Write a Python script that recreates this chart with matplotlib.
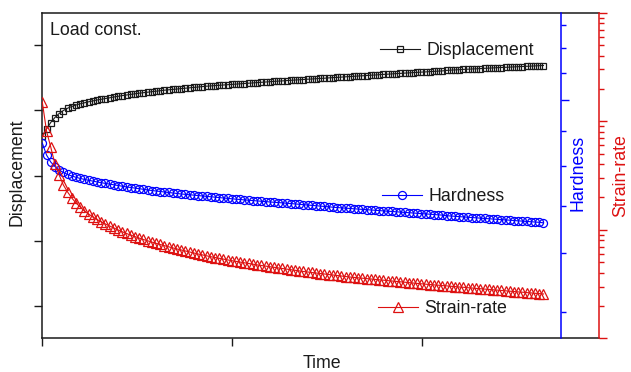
import numpy as np
import matplotlib
matplotlib.use("Agg")
import matplotlib.pyplot as plt
from matplotlib.ticker import FixedLocator, NullFormatter, LogLocator

plt.rcParams['font.family'] = ['Liberation Sans', 'DejaVu Sans']

# ---------------- data ----------------
time = np.arange(120) * 0.0222   # uniform sampling of the time axis (arb. units)

displacement = [
    202.3, 209.3, 215.8, 220.8, 224.8, 227.8, 230.1, 231.8, 233.3, 234.5,
    235.5, 236.5, 237.4, 238.3, 239.0, 239.8, 240.5, 241.3, 242.0, 242.7,
    243.3, 243.9, 244.5, 245.1, 245.6, 246.1, 246.6, 247.1, 247.6, 248.1,
    248.5, 248.9, 249.3, 249.7, 250.1, 250.5, 250.9, 251.3, 251.7, 252.1,
    252.4, 252.7, 253.0, 253.3, 253.6, 253.9, 254.2, 254.5, 254.8, 255.1,
    255.4, 255.7, 256.0, 256.3, 256.6, 256.9, 257.2, 257.4, 257.7, 258.0,
    258.3, 258.5, 258.8, 259.1, 259.3, 259.6, 259.9, 260.1, 260.4, 260.7,
    260.9, 261.2, 261.5, 261.7, 262.0, 262.3, 262.5, 262.8, 263.1, 263.3,
    263.6, 263.9, 264.1, 264.4, 264.7, 264.9, 265.2, 265.4, 265.7, 265.9,
    266.2, 266.4, 266.7, 266.9, 267.2, 267.4, 267.9, 268.2, 268.4, 268.6,
    268.9, 269.1, 269.3, 269.5, 269.7, 270.0, 270.2, 270.4, 270.6, 270.8,
    271.0, 271.2, 271.4, 271.6, 271.8, 272.0, 272.2, 272.4, 272.6, 272.8,
]

hardness = [
    7.634, 7.292, 7.099, 6.977, 6.884, 6.819, 6.767, 6.728, 6.695, 6.666,
    6.641, 6.618, 6.598, 6.577, 6.557, 6.540, 6.522, 6.505, 6.487, 6.470,
    6.453, 6.438, 6.423, 6.408, 6.394, 6.379, 6.364, 6.352, 6.340, 6.328,
    6.316, 6.304, 6.292, 6.280, 6.271, 6.261, 6.252, 6.242, 6.233, 6.223,
    6.214, 6.204, 6.194, 6.185, 6.175, 6.166, 6.156, 6.149, 6.139, 6.132,
    6.123, 6.116, 6.107, 6.100, 6.091, 6.084, 6.077, 6.070, 6.061, 6.054,
    6.045, 6.037, 6.028, 6.020, 6.012, 6.004, 5.995, 5.987, 5.979, 5.970,
    5.962, 5.955, 5.948, 5.941, 5.934, 5.927, 5.920, 5.914, 5.907, 5.900,
    5.893, 5.886, 5.879, 5.873, 5.866, 5.859, 5.852, 5.846, 5.839, 5.832,
    5.825, 5.818, 5.812, 5.805, 5.798, 5.792, 5.778, 5.772, 5.765, 5.758,
    5.752, 5.745, 5.738, 5.732, 5.725, 5.718, 5.712, 5.705, 5.699, 5.692,
    5.686, 5.680, 5.673, 5.666, 5.660, 5.653, 5.647, 5.640, 5.634, 5.623,
]

strain_rate = [
    0.1504, 0.08130, 0.05789, 0.04036, 0.03196, 0.02586, 0.02229, 0.01962, 0.01765, 0.01621,
    0.01489, 0.01398, 0.01311, 0.01244, 0.01184, 0.01130, 0.01083, 0.01038, 0.009951, 0.009579,
    0.009239, 0.008931, 0.008651, 0.008381, 0.008136, 0.007914, 0.007699, 0.007505, 0.007316, 0.007132,
    0.006968, 0.006807, 0.006650, 0.006510, 0.006373, 0.006240, 0.006109, 0.005981, 0.005867, 0.005756,
    0.005647, 0.005552, 0.005459, 0.005367, 0.005277, 0.005188, 0.005112, 0.005036, 0.004962, 0.004889,
    0.004817, 0.004746, 0.004686, 0.004627, 0.004568, 0.004510, 0.004453, 0.004397, 0.004341, 0.004286,
    0.004232, 0.004178, 0.004126, 0.004082, 0.004039, 0.003996, 0.003954, 0.003912, 0.003871, 0.003830,
    0.003790, 0.003750, 0.003710, 0.003671, 0.003640, 0.003609, 0.003579, 0.003549, 0.003519, 0.003489,
    0.003459, 0.003430, 0.003401, 0.003372, 0.003344, 0.003316, 0.003288, 0.003260, 0.003232, 0.003205,
    0.003178, 0.003151, 0.003131, 0.003105, 0.003085, 0.003059, 0.003040, 0.003014, 0.002995, 0.002969,
    0.002951, 0.002926, 0.002907, 0.002883, 0.002864, 0.002840, 0.002822, 0.002798, 0.002780, 0.002757,
    0.002739, 0.002716, 0.002699, 0.002676, 0.002659, 0.002637, 0.002620, 0.002598, 0.002582, 0.002560,
]

series_labels = ["Displacement", "Hardness", "Strain-rate"]
axis_labels = {"x": "Time", "y": "Displacement", "y2": "Hardness", "y3": "Strain-rate"}
note = "Load const."

# ---------------- styling ----------------
FS = 12.8
BLACK = "#1a1a1a"
BLUE = "#0000FF"
RED = "#DD1111"
W, H = 631, 372

fig = plt.figure(figsize=(W / 100, H / 100), dpi=100)
ax = fig.add_axes([42.3 / W, 1 - 338.3 / H, 557 / W, 325.6 / H])

# main axis : displacement
l_d, = ax.plot(time, displacement, color=BLACK, lw=0.8, marker='s', ms=5.0,
               mfc='none', mec=BLACK, mew=0.9)
ax.set_xlim(0, 2.936)
ax.set_ylim(0, 325.6)
ax.set_xticks([0, 1, 2])
ax.set_yticks([32.3, 97.55, 162.8, 228.05, 293.3])
ax.xaxis.set_major_formatter(NullFormatter())
ax.yaxis.set_major_formatter(NullFormatter())
ax.tick_params(axis='both', direction='out', length=6, width=1.0, color=BLACK)
for s in ['left', 'bottom', 'top']:
    ax.spines[s].set_color(BLACK)
    ax.spines[s].set_linewidth(1.1)
ax.spines['right'].set_visible(False)

# hardness axis (log, offset spine)
axh = ax.twinx()
l_h, = axh.plot(time, hardness, color=BLUE, lw=0.8, marker='o', ms=5.8,
                mfc='none', mec=BLUE, mew=0.9)
axh.set_yscale('log')
axh.set_ylim(3.613, 12.577)
axh.yaxis.set_major_locator(FixedLocator([9]))
axh.yaxis.set_minor_locator(FixedLocator([4, 5, 6, 7, 8, 10, 11, 12]))
axh.yaxis.set_major_formatter(NullFormatter())
axh.yaxis.set_minor_formatter(NullFormatter())
axh.tick_params(axis='y', which='major', direction='out', length=6, width=1.0, color=BLUE)
axh.tick_params(axis='y', which='minor', direction='out', length=3.5, width=1.0, color=BLUE)
for s in ['left', 'bottom', 'top']:
    axh.spines[s].set_visible(False)
axh.spines['right'].set_position(('axes', 518.4 / 557))
axh.spines['right'].set_color(BLUE)
axh.spines['right'].set_linewidth(1.1)

# strain-rate axis (log)
axs = ax.twinx()
l_s, = axs.plot(time, strain_rate, color=RED, lw=0.8, marker='^', ms=6.6,
                mfc='none', mec=RED, mew=0.9)
axs.set_yscale('log')
axs.set_ylim(1e-3, 1)
axs.yaxis.set_major_locator(LogLocator(base=10))
axs.yaxis.set_minor_locator(LogLocator(base=10, subs=np.arange(2, 10)))
axs.yaxis.set_major_formatter(NullFormatter())
axs.yaxis.set_minor_formatter(NullFormatter())
axs.tick_params(axis='y', which='major', direction='out', length=6, width=1.0, color=RED)
axs.tick_params(axis='y', which='minor', direction='out', length=3.5, width=1.0, color=RED)
for s in ['left', 'bottom', 'top']:
    axs.spines[s].set_visible(False)
axs.spines['right'].set_color(RED)
axs.spines['right'].set_linewidth(1.1)

# individual legends near each curve
leg_kw = dict(loc='center left', frameon=False, fontsize=FS, handlelength=2.25,
              handletextpad=0.35, borderpad=0, borderaxespad=0, numpoints=1)
leg1 = axs.legend([l_d], [series_labels[0]], bbox_to_anchor=(0.6063, 0.8835), **leg_kw)
axs.add_artist(leg1)
leg2 = axs.legend([l_h], [series_labels[1]], bbox_to_anchor=(0.6105, 0.4340), **leg_kw)
axs.add_artist(leg2)
leg3 = axs.legend([l_s], [series_labels[2]], bbox_to_anchor=(0.6025, 0.0920), **leg_kw)
for lg in (leg1, leg2, leg3):
    for t in lg.get_texts():
        t.set_color(BLACK)

# texts
ax.text(0.0138, 0.9315, note, transform=ax.transAxes, fontsize=FS, va='baseline',
        ha='left', color=BLACK)
fig.text(17 / W, 1 - 172.5 / H, axis_labels["y"], rotation=90, ha='center', va='center',
         fontsize=FS, color=BLACK)
fig.text(321.5 / W, 1 - 367.5 / H, axis_labels["x"], ha='center', va='baseline',
         fontsize=FS, color=BLACK)
fig.text(578.5 / W, 1 - 173 / H, axis_labels["y2"], rotation=90, ha='center', va='center',
         fontsize=FS, color=BLUE)
fig.text(621 / W, 1 - 175.5 / H, axis_labels["y3"], rotation=90, ha='center', va='center',
         fontsize=FS, color=RED)

fig.savefig("out.png", dpi=100)
